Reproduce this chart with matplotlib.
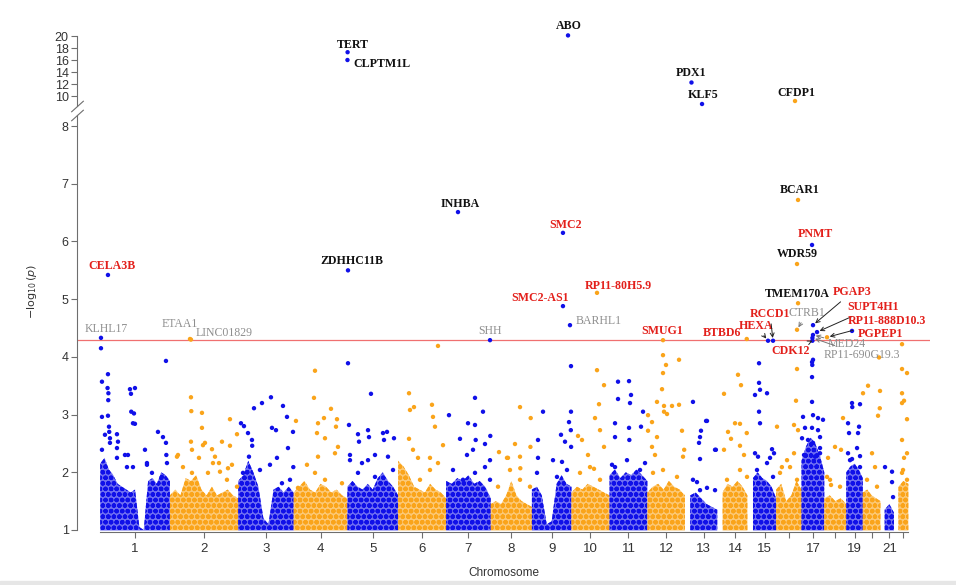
import numpy as np
import matplotlib
matplotlib.use("Agg")
import matplotlib.pyplot as plt
from matplotlib import font_manager
from matplotlib.colors import to_rgba
from matplotlib.transforms import blended_transform_factory

# chromosome sizes (Mb, hg19) and first SNP position per chromosome
chrom_len = [249.25, 243.2, 198.0, 191.15, 180.9, 171.1, 159.1, 146.4, 141.2, 135.5,
             135.0, 133.85, 115.2, 107.35, 102.5, 90.35, 81.2, 78.1, 59.1, 63.0, 48.1, 51.3]
chrom_first = [0.7, 0.1, 0.1, 0.1, 0.1, 0.2, 0.1, 0.2, 0.2, 0.1,
               0.2, 0.2, 19.0, 19.0, 20.0, 0.1, 0.1, 0.1, 0.3, 0.1, 15.0, 16.0]
chrom_tick = ['1', '2', '3', '4', '5', '6', '7', '8', '9', '10', '11', '12', '13', '14',
              '15', '', '17', '', '19', '', '21', '']

# top of the dense cloud of SNPs along each chromosome (-log10 p)
cloud_top = [
    [2.15, 2.25, 2.05, 1.95, 1.8, 1.75, 1.7, 1.65, 1.7, 1.05, 1.0, 1.85, 1.9, 1.8, 2.0, 1.95, 1.85],
    [1.6, 1.7, 1.6, 1.9, 1.85, 1.95, 1.7, 1.6, 1.75, 1.6, 1.65, 1.7, 1.6, 1.55],
    [1.85, 1.95, 2.2, 2.0, 1.75, 1.2, 1.1, 1.7, 1.75, 1.65, 1.75, 1.65],
    [1.65, 1.75, 1.85, 1.7, 1.65, 1.8, 1.75, 1.65, 1.7, 1.6, 1.55],
    [1.75, 1.85, 1.75, 1.7, 1.8, 1.7, 1.9, 2.0, 1.85, 1.75, 1.6],
    [2.2, 2.1, 1.95, 1.75, 1.7, 1.65, 1.8, 1.7, 1.65, 1.55],
    [1.85, 1.8, 1.9, 1.85, 1.95, 1.8, 1.85, 1.75, 1.55],
    [1.45, 1.5, 1.45, 1.6, 1.85, 1.6, 1.5, 1.45, 1.4],
    [1.7, 1.75, 1.6, 1.1, 1.15, 1.8, 1.95, 1.8, 1.75],
    [1.65, 1.75, 1.7, 1.8, 1.75, 1.7, 1.65, 1.6],
    [1.95, 2.05, 1.9, 2.0, 1.95, 2.05, 1.95, 1.85],
    [1.65, 1.75, 1.8, 1.7, 1.85, 1.75, 1.7, 1.6],
    [1.6, 1.65, 1.55, 1.45, 1.4, 1.35],
    [1.65, 1.8, 1.75, 1.85, 1.75, 1.6],
    [1.9, 2.0, 1.9, 1.85, 1.75, 1.55],
    [1.7, 1.8, 1.5, 1.6, 1.85, 1.7],
    [2.2, 2.45, 2.6, 2.5, 2.3, 2.0],
    [1.55, 1.6, 1.5, 1.55, 1.45],
    [2.0, 2.1, 2.15, 2.05, 1.9],
    [1.65, 1.7, 1.6, 1.55, 1.5],
    [1.35, 1.45, 1.3],
    [1.75, 1.85, 1.8],
]

# individual SNPs above the cloud: genome-wide position (Mb) and -log10 p
snp_pos = [
    3.6, 7.1, 28.5, 27.0, 30.0, 29.5, 7.1, 28.5, 32.1, 33.0, 17.8, 35.6, 60.6, 64.2,
    106.9, 124.7, 110.5, 111.5, 121.2, 117.6, 124.7, 235.2, 160.4, 206.7, 224.5, 235.2,
    236.5, 89.1, 60.6, 96.2, 167.5,
    7.1, 35.6, 60.6, 99.8, 117.6, 167.5, 185.3, 221.0, 238.8,
    324.3, 325.5, 363.5, 363.5, 463.3, 488.3, 324.3, 374.2, 367.1, 399.2, 434.8, 463.3,
    327.9, 352.8, 274.4, 409.9, 424.1, 456.2,
    278.0, 295.8, 327.9, 384.9, 402.7, 427.7, 452.6, 470.4, 488.3,
    502.5, 548.9, 577.4, 609.4, 652.2, 666.5, 513.2, 527.5, 541.7, 542.5, 613.0, 627.3,
    687.9, 670.0, 630.8, 689.0, 531.0,
    509.7, 570.2, 605.9, 648.6, 677.2,
    698.5, 766.3, 762.7, 823.3, 798.3, 777.0, 773.4, 801.9, 844.7, 841.1, 848.2, 737.7,
    777.0, 837.5,
    705.7, 766.3, 801.9, 862.5,
    883.9, 965.8, 887.4, 919.5, 955.2, 1008.6, 1022.9, 1047.8, 923.1, 958.7, 1012.2,
    891.0, 980.1, 1026.4, 933.8,
    891.0, 919.5, 955.2, 980.1, 1044.3,
    1204.6, 1101.3, 1104.8, 1119.1, 1183.2, 1186.8, 1193.9, 1101.3, 1222.5, 1133.4, 1176.1,
    1140.5, 1176.1, 1204.6, 1115.5,
    1243.8, 1336.5, 1365.0, 1311.6, 1336.5, 1391.0, 1283.0, 1339.0, 1372.1, 1329.4,
    1390.0, 1308.0,
    1258.1, 1293.7, 1336.5, 1372.1, 1390.0,
    1422.0, 1450.5, 1496.9, 1535.0, 1479.0, 1534.0, 1454.1, 1496.9, 1498.0,
    1418.5, 1461.2, 1496.9, 1532.5,
    1678.6, 1578.9, 1678.6, 1671.5, 1561.0, 1643.0, 1657.3, 1678.0, 1679.0, 1561.0,
    1614.5, 1646.6,
    1557.5, 1628.7, 1664.4,
    1771.3, 1796.3, 1778.4, 1764.2, 1782.0, 1703.6, 1796.3, 1717.8, 1739.2, 1760.6,
    1710.7, 1746.4, 1782.0,
    1846.2, 1885.4, 1846.2, 1892.5, 1888.9, 1935.3, 1928.1, 1835.5, 1835.5, 1885.4,
    1886.5, 1942.4, 1824.8,
    1835.5, 1878.2, 1924.6,
    2006.5, 2017.2, 2006.5, 2063.6, 2003.0, 1985.1, 2010.1, 2038.6, 2063.6, 2010.1,
    2020.8, 1953.1, 1967.3, 1953.1, 1967.3, 2074.2, 2082.0, 2077.8, 1985.1, 1978.0,
    1970.9, 2006.5, 2056.4,
    2113.3, 2163.3, 2141.9, 2138.4, 2134.8, 2138.4, 2191.9, 2160.0, 2195.0, 2127.6,
    2113.3, 2138.4, 2163.3, 2191.9,
    2223.9, 2273.8, 2284.5, 2238.2, 2248.9, 2263.1, 2280.9, 2305.0, 2280.9, 2223.9, 2295.2,
    2234.6, 2280.9, 2305.9,
    2348.7, 2348.7, 2352.2, 2334.4, 2377.2, 2348.7, 2352.2, 2334.4, 2345.1, 2395.0,
    2402.1, 2387.9,
    2341.5, 2377.2, 2398.6,
    2412.8, 2448.5, 2484.1, 2480.5, 2473.4, 2487.7, 2473.4, 2430.2,
    2423.5, 2459.2, 2484.1,
    2541.1, 2537.6, 2538.5, 2537.6, 2537.6, 2505.5, 2541.1, 2558.9, 2576.7, 2512.6,
    2537.6, 2558.9, 2566.1, 2502.0, 2523.3, 2566.1, 2509.1, 2548.3,
    2541.1, 2566.1,
    2591.0, 2605.3, 2619.5, 2640.9, 2648.0, 2594.6,
    2601.7, 2637.4,
    2680.1, 2681.0, 2708.6, 2665.9, 2705.1, 2669.4, 2701.5, 2698.0, 2708.6, 2665.9, 2680.1,
    2673.0, 2708.6,
    2737.2, 2719.3, 2779.9, 2772.8, 2779.0, 2751.4, 2762.1, 2776.3,
    2733.6, 2769.2,
    2797.7, 2822.7, 2822.7, 2826.3,
    2858.3, 2858.3, 2876.1, 2858.3, 2865.5, 2858.3, 2876.1, 2858.3, 2865.5, 2876.1,
    2858.3, 2876.1, 2861.9,
]
snp_logp = [
    4.15, 3.57, 3.70, 3.46, 3.37, 3.25, 2.96, 2.98, 2.79, 2.70, 2.65, 2.59, 2.66, 2.53,
    3.44, 3.46, 3.36, 3.05, 3.02, 2.85, 2.84, 3.93, 2.39, 2.70, 2.61, 2.51,
    2.30, 2.30, 2.42, 2.09, 2.13,
    2.39, 2.51, 2.25, 2.30, 2.09, 2.16, 1.99, 1.92, 2.16,
    3.30, 3.06, 3.03, 2.77, 2.92, 2.66, 2.53, 2.51, 2.47, 2.40, 2.53, 2.46,
    2.39, 2.25, 2.27, 2.27, 2.16, 2.07,
    2.30, 2.09, 1.99, 1.99, 2.16, 2.01, 1.87, 2.13, 1.75,
    2.85, 3.11, 3.20, 3.30, 3.15, 2.96, 2.80, 2.68, 2.56, 2.46, 2.77, 2.73,
    2.70, 2.42, 2.25, 2.09, 2.27,
    1.99, 2.04, 2.13, 1.81, 1.87,
    2.89, 3.76, 3.29, 3.10, 2.94, 2.85, 2.68, 2.59, 2.92, 2.79, 2.44, 2.13,
    2.27, 2.33,
    1.73, 1.99, 1.87, 1.81,
    3.89, 3.36, 2.82, 2.66, 2.73, 2.68, 2.70, 2.59, 2.53, 2.61, 2.56,
    2.30, 2.30, 2.27, 2.16,
    2.21, 1.99, 2.21, 1.92, 2.04,
    4.19, 3.37, 3.08, 3.13, 3.17, 2.96, 2.79, 2.58, 2.47, 2.25, 2.25,
    1.87, 2.04, 2.16, 2.39,
    2.99, 3.29, 3.05, 2.85, 2.82, 2.63, 2.58, 2.56, 2.49, 2.39,
    2.21, 2.30,
    2.04, 1.87, 1.99, 2.09, 1.87,
    2.35, 2.25, 3.13, 2.94, 2.49, 2.44, 2.25, 2.27, 2.07,
    1.75, 2.04, 1.87, 1.75,
    3.84, 3.05, 3.05, 2.87, 2.56, 2.65, 2.53, 2.73, 2.44, 2.25,
    2.21, 2.18,
    1.99, 1.92, 2.04,
    3.77, 3.51, 3.18, 2.94, 2.73, 2.63, 2.44, 2.56, 2.30, 2.06,
    1.99, 2.09, 1.87,
    3.57, 3.58, 3.27, 3.34, 3.20, 3.05, 2.79, 2.85, 2.61, 2.77,
    2.56, 2.16, 2.13,
    2.09, 2.21, 2.04,
    4.03, 3.86, 3.72, 3.95, 3.44, 3.22, 3.15, 3.15, 3.17, 3.05,
    3.01, 2.99, 2.87, 2.72, 2.44, 2.72, 2.39, 2.27, 2.61, 2.30,
    1.99, 2.04, 1.92,
    3.22, 2.89, 2.72, 2.61, 2.51, 2.23, 2.39, 2.89, 2.39, 1.83,
    1.87, 1.69, 1.73, 1.69,
    3.36, 3.69, 3.51, 2.70, 2.58, 2.85, 2.84, 2.68, 2.46, 2.39, 2.30,
    1.87, 2.04, 1.92,
    3.89, 3.55, 3.43, 3.34, 3.37, 3.05, 2.85, 2.33, 2.27, 2.40,
    2.33, 2.25,
    2.04, 2.16, 1.92,
    2.79, 2.21, 3.79, 3.24, 2.82, 2.73, 2.33, 2.09,
    1.99, 2.09, 1.87,
    3.95, 3.91, 3.86, 3.65, 3.22, 2.96, 2.99, 2.94, 2.91, 2.77,
    2.77, 2.73, 2.61, 2.59, 2.56, 2.42, 2.30, 2.27,
    2.51, 2.33,
    1.92, 1.78, 2.44, 2.39, 2.94, 2.25,
    1.87, 1.75,
    3.20, 3.13, 3.18, 2.85, 2.79, 2.68, 2.68, 2.42, 2.28, 2.33, 2.23,
    2.21, 2.09,
    3.50, 3.37, 3.41, 2.98, 3.11, 2.33, 2.09, 3.99,
    1.87, 1.75,
    2.09, 2.01, 1.83, 1.57,
    4.22, 3.79, 3.72, 3.37, 3.24, 3.20, 2.92, 2.56, 2.25, 2.33,
    1.99, 1.87, 2.04,
]

# annotated loci
hit_gene = ['CELA3B', 'KLHL17', 'ETAA1', 'LINC01829', 'ZDHHC11B', 'TERT', 'CLPTM1L',
            'INHBA', 'SHH', 'ABO', 'SMC2', 'SMC2-AS1', 'BARHL1', 'RP11-80H5.9', 'SMUG1',
            'PDX1', 'KLF5', 'CFDP1', 'BCAR1', 'PNMT', 'WDR59', 'TMEM170A', 'BTBD6', 'HEXA',
            'RCCD1', 'CTRB1', 'PGAP3', 'SUPT4H1', 'RP11-888D10.3', 'PGPEP1', 'CDK12',
            'MED24', 'RP11-690G19.3']
hit_pos = [28.5, 3.6, 320.8, 324.3, 883.9, 882.5, 882.0,
           1275.9, 1390.0, 1668.0, 1650.0, 1650.0, 1675.0, 1771.3, 2006.5,
           2108.0, 2145.6, 2477.0, 2487.7, 2537.6, 2484.1, 2487.7, 2305.0, 2380.8,
           2398.6, 2484.1, 2541.1, 2555.4, 2591.0, 2680.1, 2539.0,
           2541.0, 2539.0]
hit_logp = [5.42, 4.33, 4.31, 4.30, 5.50, 17.3, 16.0,
            6.51, 4.29, 20.1, 6.15, 4.88, 4.55, 5.11, 4.29,
            12.25, 8.67, 9.17, 6.72, 5.94, 5.61, 4.93, 4.31, 4.28,
            4.28, 4.47, 4.55, 4.43, 4.34, 4.45, 4.28,
            4.38, 4.33]
# 'known' = reported loci, 'novel' = new loci, 'near' = nearby genes
hit_kind = ['novel', 'near', 'near', 'near', 'known', 'known', 'known',
            'known', 'near', 'known', 'novel', 'novel', 'near', 'novel', 'novel',
            'known', 'known', 'known', 'known', 'novel', 'known', 'known', 'novel', 'novel',
            'novel', 'near', 'novel', 'novel', 'novel', 'novel', 'novel',
            'near', 'near']

threshold = 4.3

# label placement: offset in pixels (x, up), alignment, arrow
label_layout = {
    'CELA3B': (4, 9, 'center', False), 'KLHL17': (5, 9, 'center', False),
    'ETAA1': (-10, 15, 'center', False), 'LINC01829': (5, 7, 'left', False),
    'ZDHHC11B': (4, 9, 'center', False), 'TERT': (5, 7, 'center', False),
    'CLPTM1L': (6, -4, 'left', False), 'INHBA': (2, 8, 'center', False),
    'SHH': (0, 9, 'center', False), 'ABO': (1, 9, 'center', False),
    'SMC2': (3, 8, 'center', False), 'SMC2-AS1': (-23, 8, 'center', False),
    'BARHL1': (6, 4, 'left', False), 'RP11-80H5.9': (21, 7, 'center', False),
    'SMUG1': (-1, 9, 'center', False), 'PDX1': (0, 10, 'center', False),
    'KLF5': (1, 9, 'center', False), 'CFDP1': (1, 8, 'center', False),
    'BCAR1': (2, 10, 'center', False), 'PNMT': (3, 11, 'center', False),
    'WDR59': (0, 10, 'center', False), 'TMEM170A': (-1, 9, 'center', False),
    'BTBD6': (-25, 6, 'center', False), 'HEXA': (-12, 15, 'center', True),
    'RCCD1': (-3, 27, 'center', True), 'CTRB1': (10, 17, 'center', True),
    'PGAP3': (39, 33, 'center', True), 'SUPT4H1': (56, 25, 'center', True),
    'RP11-888D10.3': (60, 16, 'center', True), 'PGPEP1': (6, -3, 'left', False),
    'CDK12': (-22, -10, 'center', True), 'MED24': (34, -9, 'center', True),
    'RP11-690G19.3': (49, -17, 'center', True),
}

BLUE = '#1010E8'
ORANGE = '#FAA41A'
AXC = '#6e6e6e'
kind_color = {'known': '#111111', 'novel': '#E3201B', 'near': '#8E8E8E'}

names = {f.name for f in font_manager.fontManager.ttflist}
narrow = 'Liberation Sans Narrow' if 'Liberation Sans Narrow' in names else 'Liberation Sans'
plt.rcParams['font.family'] = ['Liberation Sans', 'DejaVu Sans']
plt.rcParams['hatch.linewidth'] = 1.6

# broken y axis: compress everything above BRK
BRK, K = 8.35, 0.104


def fwd(y):
    y = np.asarray(y, dtype=float)
    return np.where(y <= BRK, y, BRK + (y - BRK) * K)


def inv(t):
    t = np.asarray(t, dtype=float)
    return np.where(t <= BRK, t, BRK + (t - BRK) / K)


cum = np.concatenate([[0], np.cumsum(chrom_len)[:-1]])
first = cum + np.array(chrom_first)
last = cum + np.array(chrom_len)
ticks = cum + (np.array(chrom_first) + np.array(chrom_len)) / 2

fig = plt.figure(figsize=(9.56, 5.85), dpi=100)
ax = fig.add_axes([0.0805, 0.0911, 0.8923, 0.8576])
ax.set_yscale('function', functions=(fwd, inv))
ax.set_xlim(-82, 2958)
ax.set_ylim(0.97, 21)

# dense SNP cloud per chromosome (dotted texture)
for i, tops in enumerate(cloud_top):
    col = BLUE if i % 2 == 0 else ORANGE
    xs = np.linspace(first[i], last[i], len(tops))
    ax.fill_between(xs, 0.99, tops, facecolor=to_rgba(col, 0.6), edgecolor=col,
                    hatch='ooo', lw=0, zorder=1)

# individual SNPs
snp_pos = np.array(snp_pos)
idx = np.searchsorted(cum, snp_pos, side='right') - 1
cols = [BLUE if k % 2 == 0 else ORANGE for k in idx]
ax.scatter(snp_pos, snp_logp, s=10, c=cols, linewidths=0, zorder=2)

hp = np.array(hit_pos)
hidx = np.searchsorted(cum, hp, side='right') - 1
hcols = [BLUE if k % 2 == 0 else ORANGE for k in hidx]
ax.scatter(hp, hit_logp, s=10, c=hcols, linewidths=0, zorder=3)

ax.axhline(threshold, color='#F07070', lw=0.9, zorder=2)

for g, x, y, kind in zip(hit_gene, hit_pos, hit_logp, hit_kind):
    dx, dy, ha, arrow = label_layout[g]
    col = kind_color[kind]
    weight = 'normal' if kind == 'near' else 'bold'
    size = 8.5 if kind == 'near' else 8.6
    props = None
    if arrow:
        acol = '#777777' if kind == 'near' else '#222222'
        props = dict(arrowstyle='->', lw=0.7, color=acol, shrinkA=1, shrinkB=2,
                     mutation_scale=7)
    ax.annotate(g, (x, y), xytext=(dx, dy), textcoords='offset pixels',
                ha=ha, va='center', fontsize=size, color=col, fontweight=weight,
                family=['Liberation Serif', 'DejaVu Serif'], arrowprops=props, zorder=4)

# axes drawn by hand (gap in the y axis)
for s in ax.spines.values():
    s.set_visible(False)
ty = blended_transform_factory(ax.transAxes, ax.transData)
ax.plot([0, 0], [1, 8.19], transform=ty, color=AXC, lw=0.8, clip_on=False)
ax.plot([0, 0], [8.4, 20], transform=ty, color=AXC, lw=0.8, clip_on=False)
for yb in (8.19, 8.4):
    ax.plot([0], [yb], transform=ty, marker=[(-1, -0.9), (1, 0.9)], ms=9, mew=0.8,
            mec=AXC, mfc='none', clip_on=False)
tx = blended_transform_factory(ax.transData, ax.transAxes)
ax.plot([first[0], last[-1]], [0, 0], transform=tx, color=AXC, lw=0.8, clip_on=False)

ax.set_yticks([1, 2, 3, 4, 5, 6, 7, 8, 10, 12, 14, 16, 18, 20])
ax.set_yticklabels(['1', '2', '3', '4', '5', '6', '7', '8', '10', '12', '14', '16', '18', '20'])
ax.yaxis.set_minor_locator(plt.NullLocator())
ax.tick_params(axis='y', length=4, width=0.8, color=AXC, labelsize=9,
               labelcolor='#333333', pad=2)
ax.set_xticks(ticks)
ax.set_xticklabels(chrom_tick, family=[narrow, 'DejaVu Sans'])
ax.tick_params(axis='x', length=4, width=0.8, color=AXC, labelsize=9.5,
               labelcolor='#333333', pad=4)

ax.set_xlabel('Chromosome', family=[narrow, 'DejaVu Sans'], fontsize=8.5,
              color='#333333', labelpad=9)
ax.set_ylabel(r'$-\log_{10}(p)$', fontsize=8, color='#333333')
ax.yaxis.set_label_coords(-0.045, 0.48)

# thin grey strip at the bottom edge of the page
fig.patches.append(plt.Rectangle((0, 0), 1, 0.007, transform=fig.transFigure,
                                 color='#e6e6e6', zorder=0))

fig.savefig('out.png', dpi=100)
